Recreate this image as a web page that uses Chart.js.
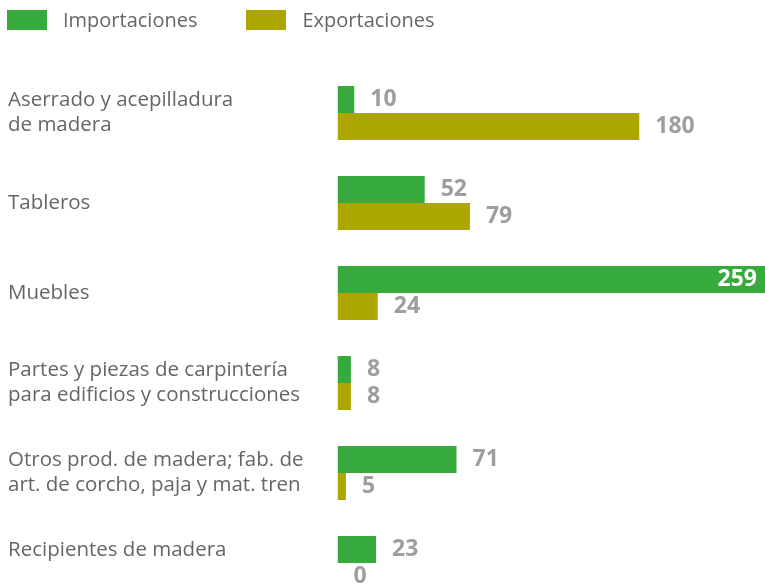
<!DOCTYPE html>
<html>
<head>
<meta charset="utf-8">
<script src="https://cdn.jsdelivr.net/npm/chart.js@4/dist/chart.umd.min.js"></script>
<style>
  html, body { margin: 0; padding: 0; background: #fff; overflow: hidden; }
  #wrap { position: relative; width: 765px; height: 610px; }
  #legend { position: absolute; left: 7px; top: 10px; display: flex; font-family: "Open Sans", sans-serif; font-size: 20px; line-height: 20px; color: #666; }
  .item { display: flex; align-items: center; margin-right: 49px; }
  .box { width: 40px; height: 20px; margin-right: 16px; }
</style>
</head>
<body>
<div id="wrap">
  <div id="legend"></div>
  <canvas id="c" width="765" height="610"></canvas>
</div>
<script>
const categories = [
  ["Aserrado y acepilladura", "de madera"],
  "Tableros",
  "Muebles",
  ["Partes y piezas de carpintería", "para edificios y construcciones"],
  ["Otros prod. de madera; fab. de", "art. de corcho, paja y mat. tren"],
  ["Recipientes de madera", ""]
];
const seriesNames = ["Importaciones", "Exportaciones"];
const importaciones = [10, 52, 259, 8, 71, 23];
const exportaciones = [180, 79, 24, 8, 5, 0];
const colors = ["#36aa3c", "#aca700"];

const legend = document.getElementById('legend');
seriesNames.forEach((n, i) => {
  const it = document.createElement('div');
  it.className = 'item';
  it.innerHTML = '<div class="box" style="background:' + colors[i] + '"></div><span>' + n + '</span>';
  legend.appendChild(it);
});

const valueLabels = {
  id: 'valueLabels',
  afterDatasetsDraw(chart) {
    const ctx = chart.ctx;
    const area = chart.chartArea;
    ctx.save();
    ctx.font = 'bold 23px "Open Sans", sans-serif';
    ctx.textBaseline = 'middle';
    chart.data.datasets.forEach((ds, di) => {
      const meta = chart.getDatasetMeta(di);
      meta.data.forEach((bar, i) => {
        const txt = String(ds.data[i]);
        const w = ctx.measureText(txt).width;
        const end = Math.min(bar.x, area.right);
        if (end + 16 + w > area.right) {
          ctx.fillStyle = '#ffffff';
          ctx.textAlign = 'right';
          ctx.fillText(txt, end - 8, bar.y);
        } else {
          ctx.fillStyle = '#9e9e9e';
          ctx.textAlign = 'left';
          ctx.fillText(txt, end + 16, bar.y);
        }
      });
    });
    ctx.restore();
  }
};

new Chart(document.getElementById('c'), {
  type: 'bar',
  data: {
    labels: categories,
    datasets: [
      { label: seriesNames[0], data: importaciones, backgroundColor: colors[0] },
      { label: seriesNames[1], data: exportaciones, backgroundColor: colors[1] }
    ]
  },
  options: {
    indexAxis: 'y',
    responsive: false,
    animation: false,
    datasets: { bar: { categoryPercentage: 0.6, barPercentage: 1.0 } },
    layout: { padding: { top: 68, bottom: 2, left: 8, right: 0 } },
    plugins: { legend: { display: false }, tooltip: { enabled: false } },
    scales: {
      x: { display: false, min: 0, max: 255 },
      y: {
        grid: { display: false },
        border: { display: false },
        afterFit(scale) { scale.width = 329.5; scale.paddingTop = 0; scale.paddingBottom = 0; },
        ticks: {
          crossAlign: 'far',
          color: '#666',
          font: { family: '"Open Sans", sans-serif', size: 20.5, lineHeight: 1.22 }
        }
      }
    }
  },
  plugins: [valueLabels]
});
</script>
</body>
</html>
